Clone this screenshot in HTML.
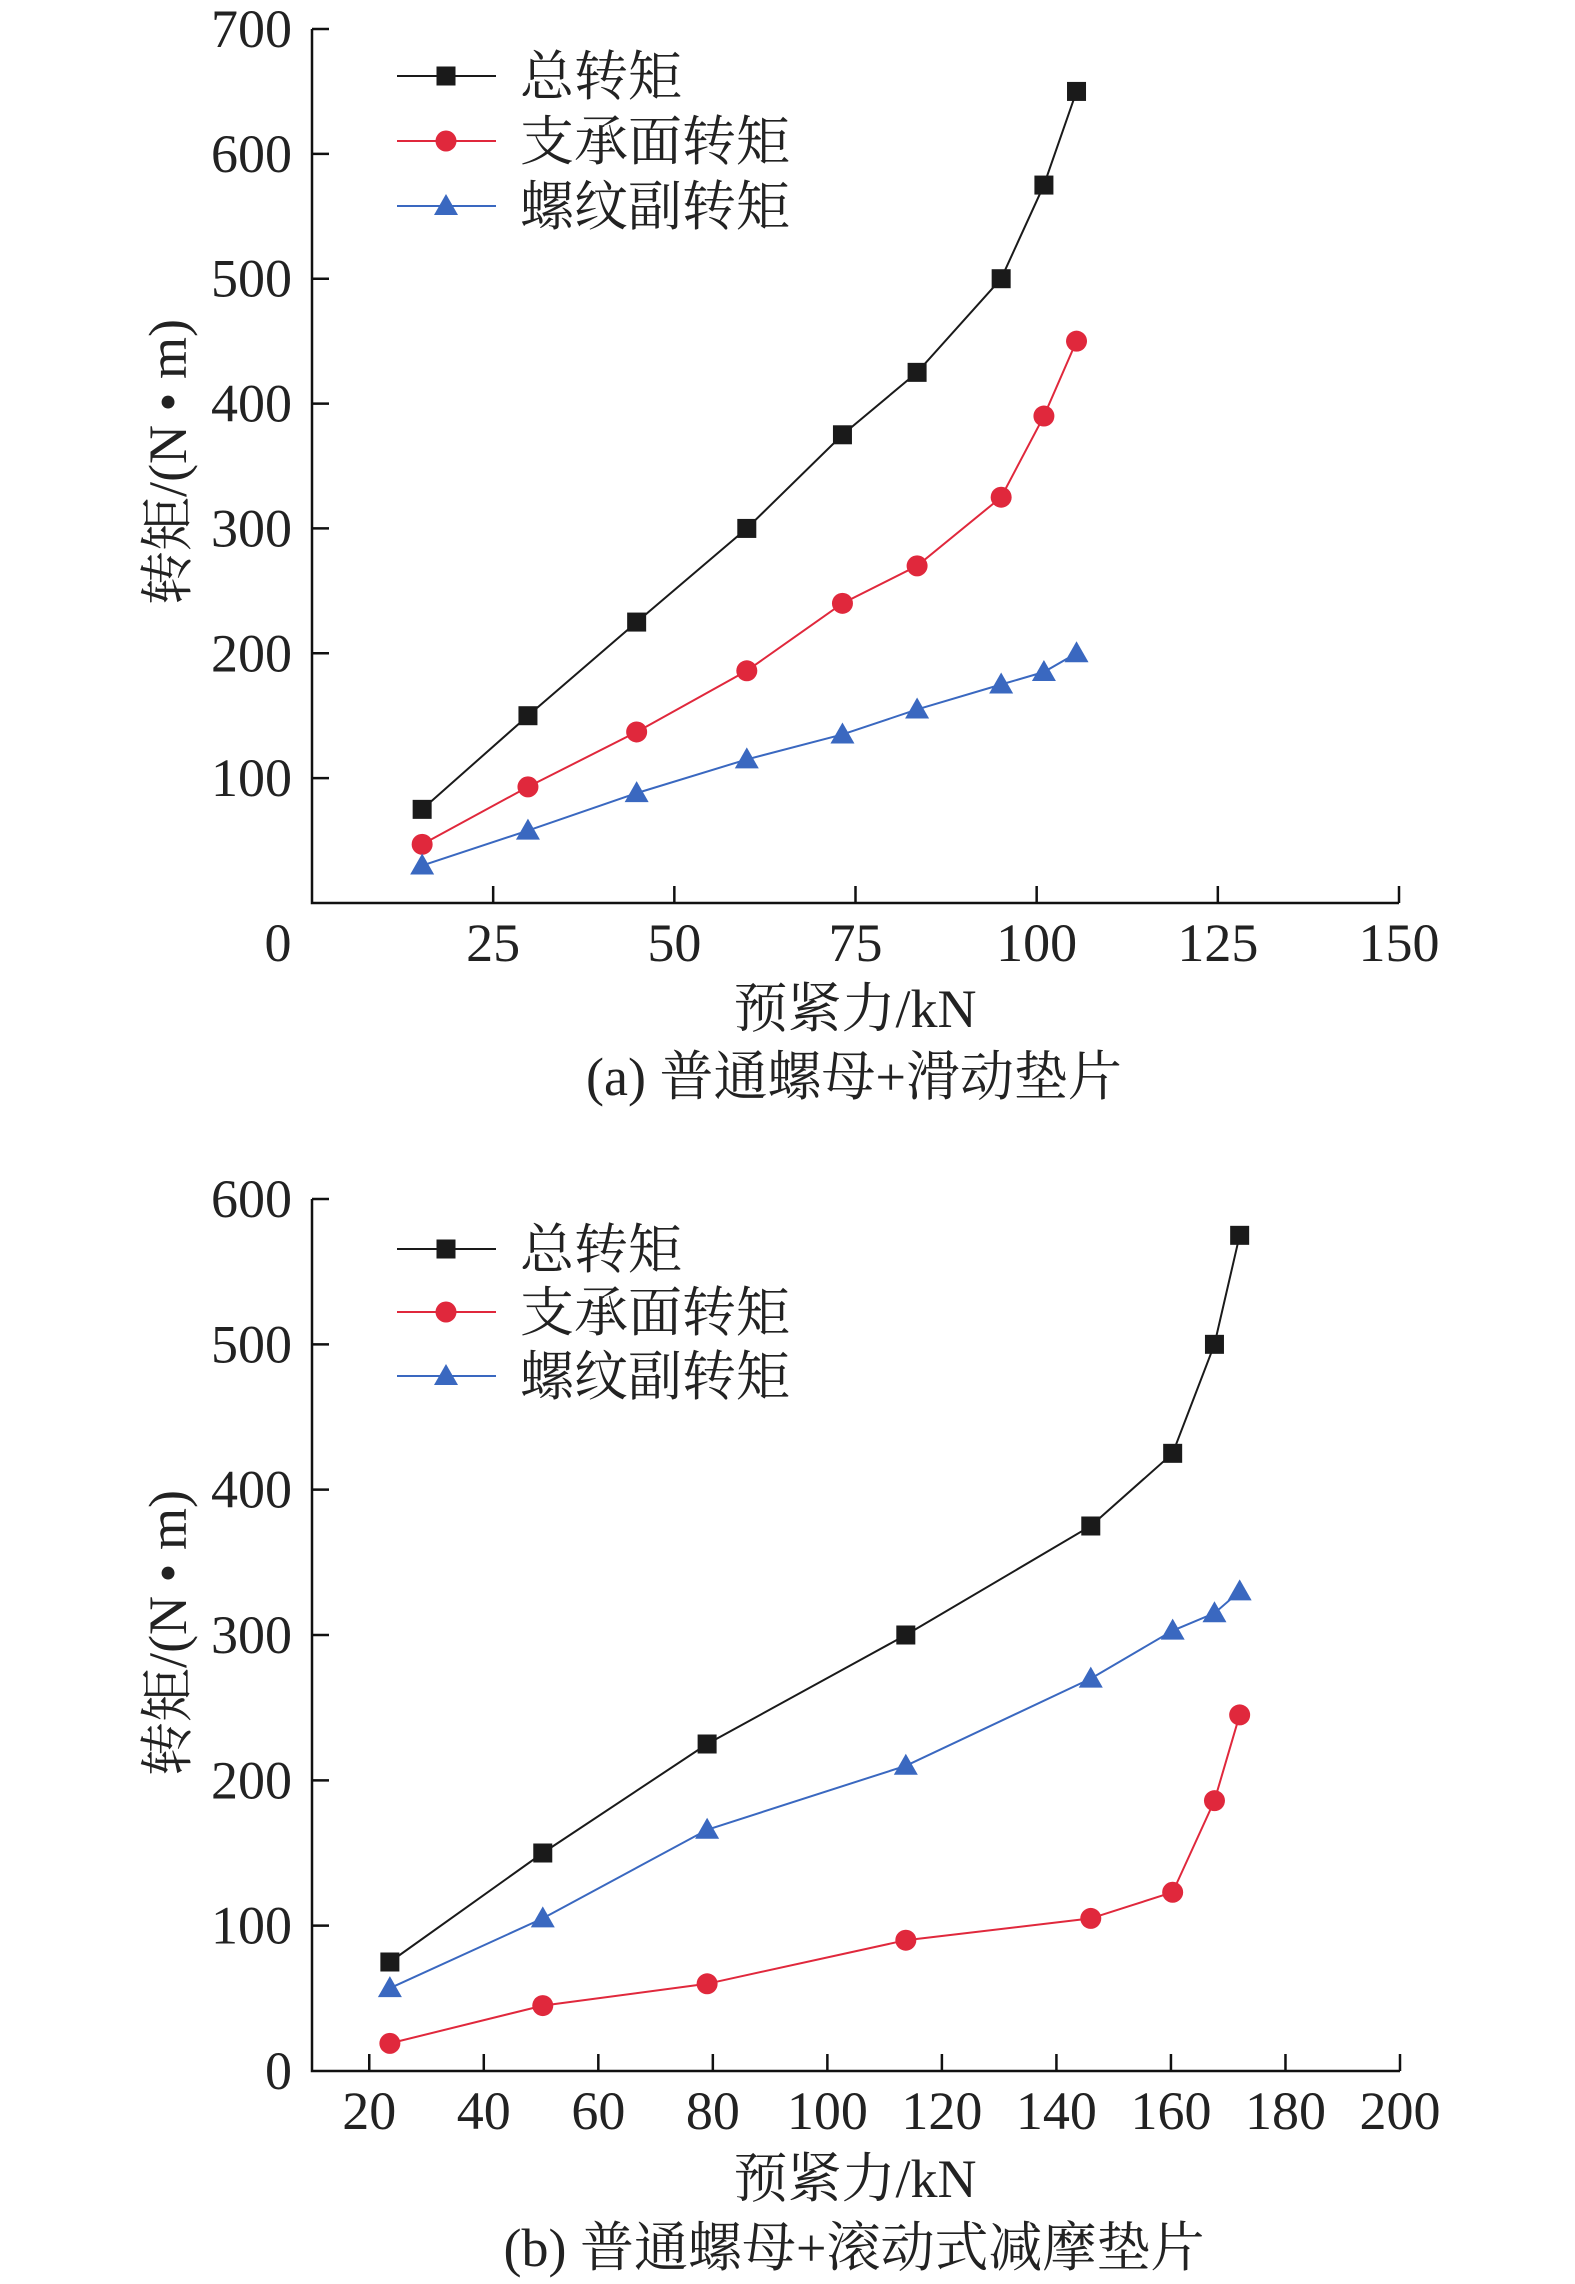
<!DOCTYPE html>
<html><head><meta charset="utf-8"><style>
body{margin:0;background:#fff;}
svg{display:block;font-family:"Liberation Serif","Noto Serif CJK SC","Noto Sans CJK SC",serif;}
</style></head><body>
<svg id="svg" width="1575" height="2284" viewBox="0 0 1575 2284" xmlns="http://www.w3.org/2000/svg"></svg>
<script>
// Chart (a)
const aX = [15.2, 29.8, 44.8, 60, 73.2, 83.5, 95.1, 101, 105.5];
const aTotal = [75, 150, 225, 300, 375, 425, 500, 575, 650];
const aBearing = [47, 93, 137, 186, 240, 270, 325, 390, 450];
const aThread = [30, 58, 88, 115, 135, 155, 175, 185, 200];
const aXTicks = [0, 25, 50, 75, 100, 125, 150];
const aYTicks = [100, 200, 300, 400, 500, 600, 700];
// Chart (b)
const bX = [23.6, 50.3, 79, 113.7, 146, 160.3, 167.6, 172];
const bTotal = [75, 150, 225, 300, 375, 425, 500, 575];
const bBearing = [19, 45, 60, 90, 105, 123, 186, 245];
const bThread = [57, 105, 166, 210, 270, 303, 315, 330];
const bXTicks = [20, 40, 60, 80, 100, 120, 140, 160, 180, 200];
const bYTicks = [0, 100, 200, 300, 400, 500, 600];
const legendLabels = ["总转矩", "支承面转矩", "螺纹副转矩"];

const NS = "http://www.w3.org/2000/svg";
const svg = document.getElementById("svg");
function mk(tag, attrs, parent, text){
  const e = document.createElementNS(NS, tag);
  for (const k in attrs) e.setAttribute(k, attrs[k]);
  if (text !== undefined) e.textContent = text;
  (parent || svg).appendChild(e);
  return e;
}
function marker(g, type, x, y, color){
  let m;
  if (type === 0) m = mk("rect", {x:x-9.5, y:y-9.5, width:19, height:19, fill:color}, g);
  else if (type === 1) m = mk("circle", {cx:x, cy:y, r:10.5, fill:color}, g);
  else m = mk("polygon", {points:`${x},${y-12} ${x-12},${y+9} ${x+12},${y+9}`, fill:color}, g);
  return m;
}
const colors = ["#1a1a1a", "#e0283c", "#3a68c0"];
const FS = 54;

function chart(cfg){
  const g = mk("g", {});
  
  
  const sx = v => cfg.x0 + (v - cfg.xmin) / (cfg.xmax - cfg.xmin) * (cfg.x1 - cfg.x0);
  const sy = v => cfg.y0 - (v - cfg.ymin) / (cfg.ymax - cfg.ymin) * (cfg.y0 - cfg.y1);
  const ax = mk("path", {d:`M${cfg.x0},${cfg.y1} L${cfg.x0},${cfg.y0} L${cfg.x1},${cfg.y0}`, stroke:"#111", "stroke-width":2.5, fill:"none"}, g);
  
  
  cfg.xTicks.forEach(t => {
    const x = sx(t);
    if (x > cfg.x0 + 1) mk("line", {x1:x, y1:cfg.y0, x2:x, y2:cfg.y0-17, stroke:"#111", "stroke-width":2.5}, g);
    const lx = (t === cfg.xmin && cfg.zeroShift) ? x - 34 : x;
    const tl = mk("text", {x:lx, y:cfg.y0+58, "font-size":FS, "text-anchor":"middle", fill:"#222"}, g, String(t));
    
    
  });
  cfg.yTicks.forEach(t => {
    const y = sy(t);
    if (t !== cfg.ymin) mk("line", {x1:cfg.x0, y1:y, x2:cfg.x0+17, y2:y, stroke:"#111", "stroke-width":2.5}, g);
    const tl = mk("text", {x:292, y:y+18, "font-size":FS, "text-anchor":"end", fill:"#222"}, g, String(t));
    
    
  });
  cfg.series.forEach((s, i) => {
    const sg = mk("g", {}, g);
    
    
    const pts = cfg.xs.map((v, j) => sx(v) + "," + sy(s[j])).join(" ");
    mk("polyline", {points:pts, fill:"none", stroke:colors[i], "stroke-width":2}, sg);
    cfg.xs.forEach((v, j) => {
      const m = marker(sg, i, sx(v), sy(s[j]), colors[i]);
      
      
    });
  });
  legendLabels.forEach((lab, i) => {
    const ly = cfg.legY[i];
    const lg = mk("g", {}, g);
    
    
    mk("line", {x1:397, y1:ly, x2:496, y2:ly, stroke:colors[i], "stroke-width":2}, lg);
    marker(lg, i, 446, ly, colors[i]);
    mk("text", {x:520, y:ly+19, "font-size":FS, fill:"#222"}, lg, lab);
  });
  const yt = mk("text", {x:0, y:0, "font-size":FS, "text-anchor":"middle", fill:"#222", transform:`translate(186,${cfg.yTitleY}) rotate(-90)`}, g, "转矩/(N • m)");
  
  
  const xt = mk("text", {x:855, y:cfg.xTitleY, "font-size":FS, "text-anchor":"middle", fill:"#222"}, g, "预紧力/kN");
  
  
  const cp = mk("text", {x:854, y:cfg.capY, "font-size":FS, "text-anchor":"middle", fill:"#222"}, g, cfg.caption);
  
  
}

chart({name:"chart-a", x0:312, x1:1399, y0:903, y1:29, xmin:0, xmax:150, ymin:0, ymax:700,
  xTicks:aXTicks, yTicks:aYTicks, xs:aX, series:[aTotal, aBearing, aThread], zeroShift:true,
  legY:[76,141,206], yTitleY:462, xTitleY:1027, capY:1095, caption:"(a) 普通螺母+滑动垫片"});
chart({name:"chart-b", x0:312, x1:1400, y0:2071, y1:1199, xmin:10, xmax:200, ymin:0, ymax:600,
  xTicks:bXTicks, yTicks:bYTicks, xs:bX, series:[bTotal, bBearing, bThread],
  legY:[1249,1312,1376], yTitleY:1633, xTitleY:2197, capY:2266, caption:"(b) 普通螺母+滚动式减摩垫片"});
</script>
</body></html>
